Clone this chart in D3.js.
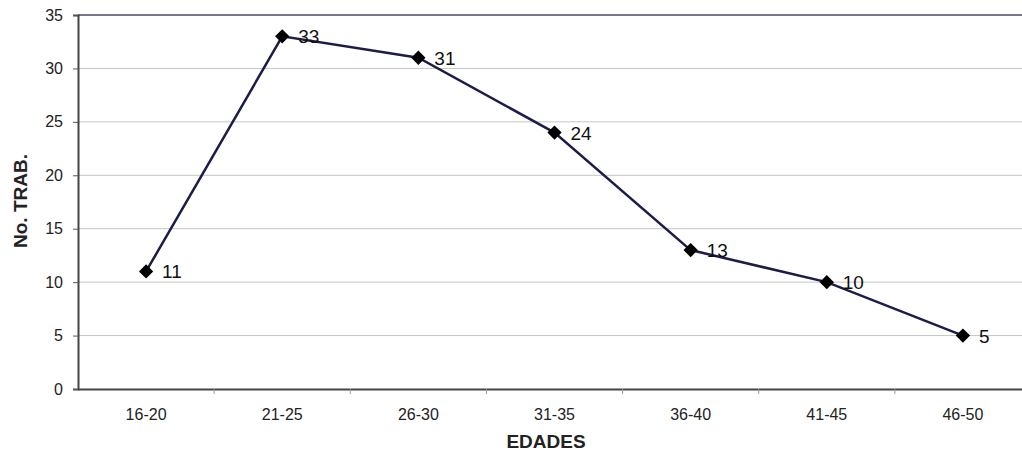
<!DOCTYPE html>
<html>
<head>
<meta charset="utf-8">
<script src="https://cdn.jsdelivr.net/npm/d3@7"></script>
<style>
  html, body { margin: 0; padding: 0; background: #fff; }
  svg { display: block; }
  text { font-family: "Liberation Sans", Arial, sans-serif; }
</style>
</head>
<body>
<svg id="chart" width="1022" height="454"></svg>
<script>
// Workers by age group
const categories = ["16-20", "21-25", "26-30", "31-35", "36-40", "41-45", "46-50"];
const workers = [11, 33, 31, 24, 13, 10, 5];
const yTicks = [0, 5, 10, 15, 20, 25, 30, 35];

const svg = d3.select("#chart");
const plotLeft = 78, plotRight = 1031, plotTop = 15, plotBottom = 389;

const x = d3.scaleBand().domain(categories).range([plotLeft, plotRight]);
const y = d3.scaleLinear().domain([0, 35]).range([plotBottom, plotTop]);
const cx = d => x(d) + x.bandwidth() / 2;

// horizontal gridlines
svg.append("g").selectAll("line")
  .data(yTicks.filter(t => t > 0 && t < 35))
  .join("line")
  .attr("x1", plotLeft).attr("x2", 1022)
  .attr("y1", d => y(d)).attr("y2", d => y(d))
  .attr("stroke", "#c4c4c4").attr("stroke-width", 1);

// top border
svg.append("line")
  .attr("x1", plotLeft).attr("x2", 1022)
  .attr("y1", y(35)).attr("y2", y(35))
  .attr("stroke", "#77778a").attr("stroke-width", 2);

// y axis
const yAxis = svg.append("g")
  .attr("transform", `translate(${plotLeft},0)`)
  .call(d3.axisLeft(y).tickValues(yTicks).tickSize(5).tickPadding(10));
yAxis.select(".domain").attr("stroke", "#444").attr("stroke-width", 2);
yAxis.selectAll(".tick line").attr("stroke", "#555");
yAxis.selectAll("text").attr("font-size", 16).attr("fill", "#222")
  .style("font-family", "'Liberation Sans', Arial, sans-serif");

// x axis with ticks between categories
const xAxis = svg.append("g")
  .attr("transform", `translate(0,${plotBottom})`)
  .call(d3.axisBottom(x).tickSize(0).tickPadding(20));
xAxis.select(".domain").attr("stroke", "#444").attr("stroke-width", 2);
xAxis.selectAll("text").attr("font-size", 16).attr("fill", "#222")
  .style("font-family", "'Liberation Sans', Arial, sans-serif");
svg.append("g").selectAll("line")
  .data(categories.slice(1))
  .join("line")
  .attr("x1", d => x(d)).attr("x2", d => x(d))
  .attr("y1", plotBottom).attr("y2", plotBottom + 5)
  .attr("stroke", "#999");

// data line
const line = d3.line().x((d, i) => cx(categories[i])).y(d => y(d));
svg.append("path")
  .datum(workers)
  .attr("d", line)
  .attr("fill", "none")
  .attr("stroke", "#1c1c4a")
  .attr("stroke-width", 2.5);

// diamond markers
svg.append("g").selectAll("path")
  .data(workers)
  .join("path")
  .attr("transform", (d, i) => `translate(${cx(categories[i])},${y(d)})`)
  .attr("d", d3.symbol(d3.symbolDiamond2, 130)())
  .attr("fill", "#000");

// value labels
svg.append("g").selectAll("text")
  .data(workers)
  .join("text")
  .attr("x", (d, i) => cx(categories[i]) + 16)
  .attr("y", d => y(d) + 7)
  .attr("font-size", 19)
  .attr("fill", "#111")
  .text(d => d);

// axis titles
svg.append("text")
  .attr("x", 546).attr("y", 448)
  .attr("text-anchor", "middle")
  .attr("font-size", 19).attr("font-weight", "bold").attr("fill", "#222")
  .text("EDADES");
svg.append("text")
  .attr("transform", "translate(27,201) rotate(-90)")
  .attr("text-anchor", "middle")
  .attr("font-size", 19).attr("font-weight", "bold").attr("fill", "#222")
  .text("No. TRAB.");
</script>
</body>
</html>
